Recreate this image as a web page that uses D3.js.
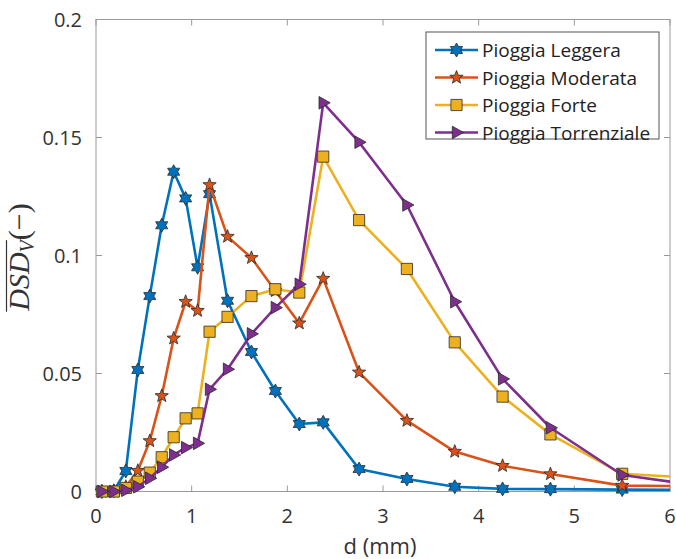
<!DOCTYPE html>
<html>
<head>
<meta charset="utf-8">
<script src="https://cdn.jsdelivr.net/npm/d3@7"></script>
<style>
  html, body { margin: 0; padding: 0; background: #fff; }
  svg { display: block; }
</style>
</head>
<body>
<svg id="chart" width="676" height="559"></svg>
<script>
// Drop diameter classes (mm)
const diameters = [0.062, 0.187, 0.312, 0.437, 0.562, 0.687, 0.812, 0.937, 1.062, 1.187,
                   1.375, 1.625, 1.875, 2.125, 2.375, 2.75, 3.25, 3.75, 4.25, 4.75, 5.5, 6.5];

// Mean normalised volume DSD for each rain class
const leggera     = [0, 0.0003, 0.0087, 0.0515, 0.0828, 0.1128, 0.1355, 0.1242, 0.095, 0.126,
                     0.0808, 0.0591, 0.0426, 0.0286, 0.0293, 0.0095, 0.0053, 0.002, 0.0011, 0.001, 0.0008, 0.0007];
const moderata    = [0, 0, 0.002, 0.0088, 0.0214, 0.0405, 0.0649, 0.0804, 0.0766, 0.1299,
                     0.108, 0.099, 0.085, 0.0713, 0.0902, 0.0505, 0.030, 0.0169, 0.0109, 0.0074, 0.0025, 0.0022];
const forte       = [0, 0, 0.0015, 0.0042, 0.008, 0.0145, 0.023, 0.031, 0.0331, 0.0677,
                     0.074, 0.0828, 0.0857, 0.0843, 0.1419, 0.115, 0.0943, 0.0632, 0.0402, 0.0242, 0.0075, 0.0052];
const torrenziale = [0, 0, 0.0005, 0.002, 0.0056, 0.0103, 0.0155, 0.0186, 0.0204, 0.0433,
                     0.0518, 0.0668, 0.0779, 0.0878, 0.1647, 0.148, 0.1214, 0.0804, 0.0477, 0.027, 0.007, 0.0014];

const seriesNames  = ["Pioggia Leggera", "Pioggia Moderata", "Pioggia Forte", "Pioggia Torrenziale"];
const seriesColors = ["#0072BD", "#D95319", "#EDB120", "#7E2F8E"];
const seriesMarks  = ["hexagram", "pentagram", "square", "triangleRight"];
const seriesValues = [leggera, moderata, forte, torrenziale];

const xTicks = [0, 1, 2, 3, 4, 5, 6];
const yTicks = [0, 0.05, 0.1, 0.15, 0.2];
const xTickLabels = ["0", "1", "2", "3", "4", "5", "6"];
const yTickLabels = ["0", "0.05", "0.1", "0.15", "0.2"];

const svg = d3.select("#chart");
const plot = { left: 96, right: 670, top: 19.5, bottom: 491.5 };

const x = d3.scaleLinear().domain([0, 6]).range([plot.left, plot.right]);
const y = d3.scaleLinear().domain([0, 0.2]).range([plot.bottom, plot.top]);

const axisColor = "#9a9a9a";
const textColor = "#333333";
const tickFont = "'Open Sans', 'Noto Sans', sans-serif";

svg.append("defs").append("clipPath").attr("id", "plot-clip")
  .append("rect")
  .attr("x", plot.left).attr("y", plot.top)
  .attr("width", plot.right - plot.left).attr("height", plot.bottom - plot.top);

// Marker path generators
function markerPath(kind, r) {
  const pts = [];
  if (kind === "hexagram") {
    const ri = r / Math.sqrt(3);
    for (let i = 0; i < 12; i++) {
      const a = -Math.PI / 2 + i * Math.PI / 6;
      const rr = i % 2 === 0 ? r : ri;
      pts.push([rr * Math.cos(a), rr * Math.sin(a)]);
    }
  } else if (kind === "pentagram") {
    const ri = r * 0.42;
    for (let i = 0; i < 10; i++) {
      const a = -Math.PI / 2 + i * Math.PI / 5;
      const rr = i % 2 === 0 ? r : ri;
      pts.push([rr * Math.cos(a), rr * Math.sin(a)]);
    }
  } else if (kind === "square") {
    const s = r * 0.8;
    pts.push([-s, -s], [s, -s], [s, s], [-s, s]);
  } else if (kind === "triangleRight") {
    pts.push([r, 0], [-r * 0.6, -r * 0.9], [-r * 0.6, r * 0.9]);
  }
  return "M" + pts.map(p => p[0].toFixed(2) + "," + p[1].toFixed(2)).join("L") + "Z";
}

// Axes box, ticks inward on all four sides
const axisG = svg.append("g");
axisG.append("rect")
  .attr("x", plot.left).attr("y", plot.top)
  .attr("width", plot.right - plot.left).attr("height", plot.bottom - plot.top)
  .attr("fill", "none").attr("stroke", axisColor).attr("stroke-width", 1);

const tickLen = 6;
xTicks.forEach(t => {
  axisG.append("line").attr("x1", x(t)).attr("x2", x(t))
    .attr("y1", plot.bottom).attr("y2", plot.bottom - tickLen)
    .attr("stroke", axisColor);
  axisG.append("line").attr("x1", x(t)).attr("x2", x(t))
    .attr("y1", plot.top).attr("y2", plot.top + tickLen)
    .attr("stroke", axisColor);
});
yTicks.forEach(t => {
  axisG.append("line").attr("x1", plot.left).attr("x2", plot.left + tickLen)
    .attr("y1", y(t)).attr("y2", y(t)).attr("stroke", axisColor);
  axisG.append("line").attr("x1", plot.right).attr("x2", plot.right - tickLen)
    .attr("y1", y(t)).attr("y2", y(t)).attr("stroke", axisColor);
});

// Tick labels
svg.append("g").selectAll("text").data(xTicks).join("text")
  .attr("x", d => x(d)).attr("y", 523)
  .attr("text-anchor", "middle")
  .attr("font-family", tickFont).attr("font-size", 20).attr("fill", textColor)
  .text((d, i) => xTickLabels[i]);

svg.append("g").selectAll("text").data(yTicks).join("text")
  .attr("x", 82).attr("y", d => y(d) + 7)
  .attr("text-anchor", "end")
  .attr("font-family", tickFont).attr("font-size", 20).attr("fill", textColor)
  .text((d, i) => yTickLabels[i]);

// X axis title
svg.append("text")
  .attr("x", 380).attr("y", 554)
  .attr("text-anchor", "middle")
  .attr("font-family", tickFont).attr("font-size", 22).attr("fill", textColor)
  .text("d (mm)");

// Y axis title: overlined DSD with subscript V, then (−)
const yTitle = svg.append("text")
  .attr("transform", "translate(29,257) rotate(-90)")
  .attr("text-anchor", "middle")
  .attr("font-family", "'Liberation Serif', 'DejaVu Serif', serif")
  .attr("font-size", 30).attr("fill", textColor);
const tDSD = yTitle.append("tspan").attr("font-style", "italic").text("DSD");
const tV = yTitle.append("tspan").attr("font-style", "italic").attr("font-size", 20).attr("dy", 5).text("V");
yTitle.append("tspan").attr("dy", -5).text("(\u2212)");
{
  const bb = yTitle.node().getBBox();
  const start = bb.x;
  const endV = start + tDSD.node().getComputedTextLength() + tV.node().getComputedTextLength();
  svg.append("line")
    .attr("transform", "translate(29,257) rotate(-90)")
    .attr("x1", start).attr("x2", endV + 1)
    .attr("y1", -22.5).attr("y2", -22.5)
    .attr("stroke", textColor).attr("stroke-width", 1.2);
}

// Series: line plus markers, drawn in order so later series sit on top
const line = d3.line().x(d => x(d[0])).y(d => y(d[1]));
const markerR = 7;

seriesValues.forEach((vals, si) => {
  const pts = diameters.map((d, i) => [d, vals[i]]);
  const g = svg.append("g");
  g.append("path")
    .attr("d", line(pts))
    .attr("clip-path", "url(#plot-clip)")
    .attr("fill", "none")
    .attr("stroke", seriesColors[si])
    .attr("stroke-width", 2.6)
    .attr("stroke-linejoin", "round");
  g.selectAll("path.mk").data(pts.filter(p => p[0] <= 6)).join("path")
    .attr("class", "mk")
    .attr("transform", p => `translate(${x(p[0])},${y(p[1])})`)
    .attr("d", markerPath(seriesMarks[si], markerR))
    .attr("fill", seriesColors[si])
    .attr("stroke", "#2a2a2a")
    .attr("stroke-width", 0.8)
    .attr("stroke-linejoin", "miter");
});

// Legend
const legend = svg.append("g");
const lg = { x: 426, y: 32, w: 233, h: 107 };
legend.append("rect")
  .attr("x", lg.x).attr("y", lg.y).attr("width", lg.w).attr("height", lg.h)
  .attr("fill", "#fff").attr("stroke", "#555").attr("stroke-width", 1);
const rowY = [50, 77.5, 105, 132.5];
seriesNames.forEach((name, i) => {
  const ry = rowY[i];
  legend.append("line")
    .attr("x1", 435).attr("x2", 478).attr("y1", ry).attr("y2", ry)
    .attr("stroke", seriesColors[i]).attr("stroke-width", 2.6);
  legend.append("path")
    .attr("transform", `translate(456.5,${ry})`)
    .attr("d", markerPath(seriesMarks[i], markerR))
    .attr("fill", seriesColors[i])
    .attr("stroke", "#2a2a2a").attr("stroke-width", 0.8);
  legend.append("text")
    .attr("x", 482).attr("y", ry + 7)
    .attr("font-family", tickFont).attr("font-size", 19).attr("fill", "#222")
    .text(name);
});
</script>
</body>
</html>
